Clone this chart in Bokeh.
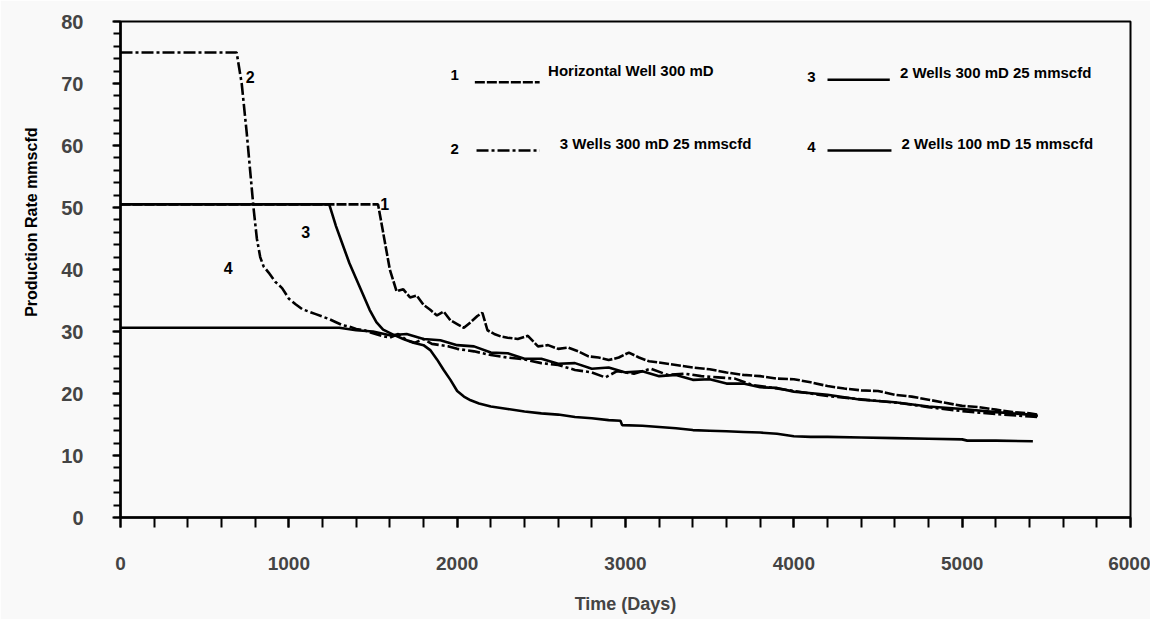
from bokeh.plotting import figure
from bokeh.models import SingleIntervalTicker, Range1d, Title
from bokeh.core.properties import value
from bokeh.embed import file_html
from bokeh.resources import INLINE

# ---------------- data ----------------
series_names = ["Horizontal Well 300 mD", "3 Wells 300 mD 25 mmscfd",
                "2 Wells 300 mD 25 mmscfd", "2 Wells 100 mD 15 mmscfd"]

days_1 = [0, 1530, 1560, 1600, 1640, 1680, 1720, 1760, 1800, 1840, 1880, 1920, 1960,
          2000, 2040, 2080, 2120, 2150, 2180, 2220, 2260, 2300, 2360, 2420, 2480, 2540,
          2600, 2660, 2720, 2780, 2840, 2900, 2960, 3020, 3080, 3140, 3200, 3300, 3400,
          3500, 3600, 3700, 3800, 3900, 4000, 4100, 4200, 4300, 4400, 4500, 4600, 4700,
          4800, 4900, 5000, 5100, 5200, 5300, 5400, 5450]
rate_1 = [50.5, 50.5, 46.0, 40.0, 36.5, 36.8, 35.5, 35.8, 34.3, 33.5, 32.6, 33.2, 31.8,
          31.2, 30.6, 31.5, 32.5, 33.0, 30.2, 29.6, 29.2, 29.0, 28.8, 29.3, 27.6, 27.8,
          27.2, 27.4, 26.8, 26.0, 25.8, 25.4, 25.8, 26.6, 25.8, 25.2, 25.0, 24.6, 24.2,
          23.9, 23.4, 23.0, 22.8, 22.4, 22.3, 21.8, 21.2, 20.8, 20.5, 20.4, 19.8, 19.5,
          19.0, 18.5, 18.0, 17.8, 17.4, 17.0, 16.8, 16.6]

days_2 = [0, 690, 720, 750, 770, 790, 810, 830, 850, 880, 920, 960, 1000, 1040, 1080,
          1120, 1160, 1200, 1240, 1280, 1320, 1360, 1400, 1450, 1500, 1550, 1600, 1650,
          1700, 1750, 1800, 1850, 1900, 1950, 2000, 2100, 2200, 2300, 2400, 2500, 2600,
          2700, 2800, 2880, 2950, 3050, 3150, 3250, 3350, 3450, 3550, 3650, 3750, 3850,
          3950, 4050, 4200, 4350, 4500, 4650, 4800, 4950, 5100, 5250, 5400, 5450]
rate_2 = [75.0, 75.0, 70.0, 62.0, 56.0, 50.0, 45.0, 42.0, 40.5, 39.5, 38.0, 37.0, 35.3,
          34.4, 33.6, 33.2, 32.8, 32.4, 32.0, 31.5, 31.0, 30.8, 30.4, 30.2, 29.7, 29.3,
          29.0, 29.6, 28.6, 28.2, 28.8, 28.0, 27.8, 27.6, 27.2, 26.8, 26.2, 25.8, 25.5,
          24.9, 24.6, 23.8, 23.4, 22.6, 23.6, 23.2, 24.0, 23.0, 23.2, 22.8, 22.6, 22.4,
          21.4, 21.0, 20.6, 20.2, 19.6, 19.2, 18.8, 18.4, 17.8, 17.3, 16.9, 16.6, 16.3, 16.2]

days_3 = [0, 1240, 1280, 1320, 1360, 1400, 1440, 1480, 1520, 1560, 1620, 1680, 1740,
          1800, 1840, 1880, 1920, 1960, 2000, 2040, 2080, 2130, 2200, 2300, 2400, 2500,
          2600, 2700, 2800, 2900, 2970, 2980, 3100, 3200, 3300, 3400, 3500, 3600, 3700,
          3800, 3900, 4000, 4100, 4200, 4400, 4600, 4800, 5000, 5030, 5200, 5420]
rate_3 = [50.5, 50.5, 47.0, 44.0, 41.0, 38.5, 36.0, 33.5, 31.5, 30.3, 29.5, 28.8, 28.2,
          27.8, 27.0, 25.5, 23.8, 22.2, 20.4, 19.5, 18.9, 18.4, 17.9, 17.5, 17.1, 16.8,
          16.6, 16.2, 16.0, 15.7, 15.6, 14.9, 14.8, 14.6, 14.4, 14.1, 14.0, 13.9, 13.8,
          13.7, 13.5, 13.1, 13.0, 13.0, 12.9, 12.8, 12.7, 12.6, 12.4, 12.4, 12.3]

days_4 = [0, 1300, 1400, 1500, 1600, 1700, 1800, 1900, 2000, 2100, 2200, 2300, 2400,
          2500, 2600, 2700, 2800, 2900, 3000, 3100, 3200, 3300, 3400, 3500, 3600, 3700,
          3800, 3900, 4000, 4200, 4400, 4600, 4800, 5000, 5200, 5400, 5450]
rate_4 = [30.6, 30.6, 30.2, 30.0, 29.4, 29.6, 28.8, 28.6, 27.8, 27.6, 26.6, 26.5, 25.6,
          25.6, 24.8, 24.9, 24.0, 24.2, 23.4, 23.6, 22.8, 23.0, 22.2, 22.3, 21.6, 21.6,
          21.0, 20.9, 20.3, 19.8, 19.0, 18.6, 17.9, 17.5, 17.0, 16.6, 16.4]

x_ticks_interval = 1000
y_ticks_interval = 10

# ---------------- figure ----------------
BG = "#f9f9f9"
FONT = "Liberation Sans"
p = figure(width=1150, height=619, output_backend="svg", toolbar_location=None,
           x_range=Range1d(0, 6000), y_range=Range1d(0, 80),
           min_border_left=120, min_border_right=20, min_border_top=21,
           min_border_bottom=102, background_fill_color=BG, border_fill_color=BG)
p.xgrid.visible = False
p.ygrid.visible = False
p.outline_line_color = "black"
p.outline_line_width = 2

xa = p.xaxis[0]
xa.ticker = SingleIntervalTicker(interval=x_ticks_interval, num_minor_ticks=5)
xa.axis_line_width = 2.5
xa.major_tick_out = 10
xa.major_tick_in = 0
xa.minor_tick_out = 10
xa.minor_tick_in = 0
xa.major_tick_line_width = 2
xa.minor_tick_line_width = 2
xa.major_label_standoff = 29
xa.major_label_text_font = FONT
xa.major_label_text_font_style = "bold"
xa.major_label_text_font_size = "19px"
xa.axis_label = "Time (Days)"
xa.axis_label_text_font = FONT
xa.axis_label_text_font_style = "bold"
xa.axis_label_text_font_size = "18px"
xa.axis_label_standoff = 21

ya = p.yaxis[0]
ya.ticker = SingleIntervalTicker(interval=y_ticks_interval, num_minor_ticks=5)
ya.axis_line_width = 2.5
ya.major_tick_out = 8
ya.major_tick_in = 0
ya.minor_tick_out = 7
ya.minor_tick_in = 0
ya.major_tick_line_width = 2
ya.minor_tick_line_width = 2
ya.major_label_standoff = 29
ya.major_label_text_font = FONT
ya.major_label_text_font_style = "bold"
ya.major_label_text_font_size = "20px"

# y-axis title, placed above the frame centre as in the reference
p.add_layout(Title(text="Production Rate mmscfd", align="right", offset=106,
                   standoff=38, text_font=FONT, text_font_style="bold",
                   text_font_size="16px", text_color="black"), "left")

LW = 2.6
dash_1 = "10 2"
dash_2 = "12 3 3 3"
p.line(days_4, rate_4, line_color="black", line_width=LW)
p.line(days_3, rate_3, line_color="black", line_width=LW)
p.line(days_2, rate_2, line_color="black", line_width=LW, line_dash=dash_2)
p.line(days_1, rate_1, line_color="black", line_width=LW, line_dash=dash_1)

# curve number labels
p.text(x=[770, 1570, 1100, 640], y=[71.0, 50.6, 46.0, 40.2], text=["2", "1", "3", "4"],
       text_font=value(FONT), text_font_style="bold", text_font_size="16px",
       text_align="center", text_baseline="middle", text_color="black")

# legend (hand-placed like the original)
leg_num_x = [1985, 1985, 4105, 4105]
leg_num_y = [71.3, 59.5, 71.0, 59.7]
leg_x0 = [2105, 2115, 4200, 4200]
leg_x1 = [2490, 2490, 4570, 4580]
leg_ly = [70.2, 59.2, 70.6, 59.2]
leg_tx = [2540, 2610, 4630, 4640]
leg_ty = [72.1, 60.3, 71.8, 60.3]
leg_dash = [dash_1, dash_2, "solid", "solid"]
p.text(x=leg_num_x, y=leg_num_y, text=["1", "2", "3", "4"],
       text_font=value(FONT), text_font_style="bold", text_font_size="15px",
       text_align="center", text_baseline="middle", text_color="black")
for i in range(4):
    p.line([leg_x0[i], leg_x1[i]], [leg_ly[i], leg_ly[i]], line_color="black",
           line_width=LW, line_dash=leg_dash[i])
p.text(x=leg_tx, y=leg_ty, text=series_names,
       text_font=value(FONT), text_font_style="bold", text_font_size="15px",
       text_align="left", text_baseline="middle", text_color="black")

open("out.html", "w").write(file_html(p, INLINE))
